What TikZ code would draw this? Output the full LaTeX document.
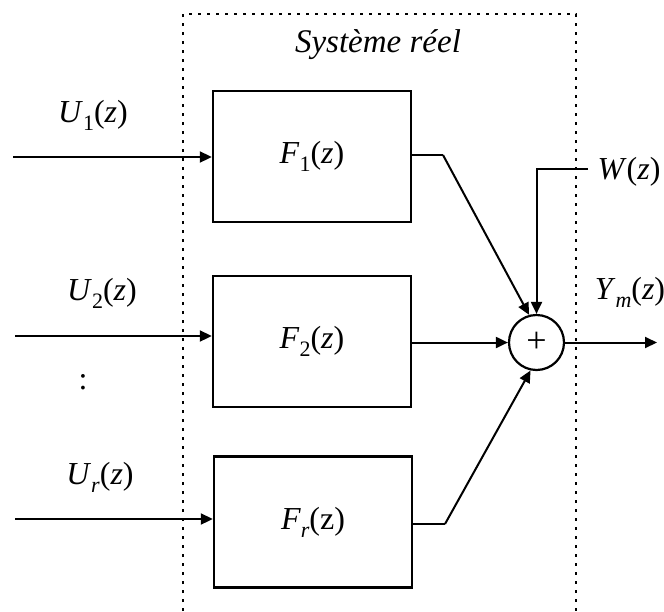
\documentclass[tikz,border=0pt]{standalone}
\usepackage{fontspec}
\setmainfont{Liberation Serif}
\usetikzlibrary{arrows.meta}
\newcommand\sbs[1]{\raisebox{-0.25em}{\fontsize{22}{22}\selectfont #1}}
\begin{document}
\begin{tikzpicture}[x=1pt,y=-1pt,
  lbl/.style={inner sep=0pt,font=\fontsize{32}{32}\selectfont},
  blk/.style={draw,line width=2.4pt,minimum width=198pt,minimum height=131pt,inner sep=0pt,font=\fontsize{32}{32}\selectfont},
  sumnode/.style={draw,circle,line width=2.2pt,minimum size=55pt,inner sep=0pt,font=\fontsize{36}{36}\selectfont},
  arr/.style={line width=2pt,-{Triangle[length=12pt,width=11pt]}},
  ln/.style={line width=2pt},
  frame/.style={line width=2.6pt,dash pattern=on 3pt off 6pt}]
\useasboundingbox (0,0) rectangle (664,611);
% frame
\coordinate (fbl) at (183,611);
\coordinate (ftl) at (183,14);
\coordinate (ftr) at (576,14);
\coordinate (fbr) at (576,611);
\draw[frame] (fbl) -- (ftl) -- (ftr) -- (fbr);
\node[lbl,font=\itshape\fontsize{33}{33}\selectfont] (title) at (378,45) {Système réel};
% blocks
\node[blk] (f1) at (312,156.5) {\textit{F}\sbs{1}(\textit{z})};
\node[blk] (f2) at (312,341.5) {\textit{F}\sbs{2}(\textit{z})};
\node[blk] (f3) at (313,522) {\textit{F}\sbs{\textit{r}}(z)};
\node[sumnode] (sum) at (536.5,342.5) {+};
% inputs
\coordinate (in1) at (13,157);
\coordinate (in2) at (15,336);
\coordinate (in3) at (15,519);
\draw[arr] (in1) -- (in1 -| f1.west);
\draw[arr] (in2) -- (in2 -| f2.west);
\draw[arr] (in3) -- (in3 -| f3.west);
\node[lbl] (u1) at (93,115) {\textit{U}\sbs{1}(\textit{z})};
\node[lbl] (u2) at (102,293) {\textit{U}\sbs{2}(\textit{z})};
\node[lbl] (ur) at (100,477) {\textit{U}\sbs{\textit{r}}(\textit{z})};
\node[lbl] (dots) at (83,382) {:};
% block outputs
\coordinate (o1) at (411,155);
\coordinate (k1) at (443,155);
\draw[ln] (o1) -- (k1);
\draw[arr] (k1) -- (sum.105);
\draw[arr] (f2.east |- sum) -- (sum.west);
\coordinate (o3) at (412,524);
\coordinate (k3) at (445,524);
\draw[ln] (o3) -- (k3);
\draw[arr] (k3) -- (sum.258);
% disturbance
\coordinate (w) at (588,169);
\draw[arr] (w) -- (w -| sum) -- (sum.north);
\node[lbl] (wl) at (629,172) {\textit{W}(\textit{z})};
% output
\coordinate (out) at (657,342.5);
\draw[arr] (sum.east) -- (out);
\node[lbl] (ym) at (630,292) {\textit{Y}\sbs{\textit{m}}(\textit{z})};
\end{tikzpicture}
\end{document}
